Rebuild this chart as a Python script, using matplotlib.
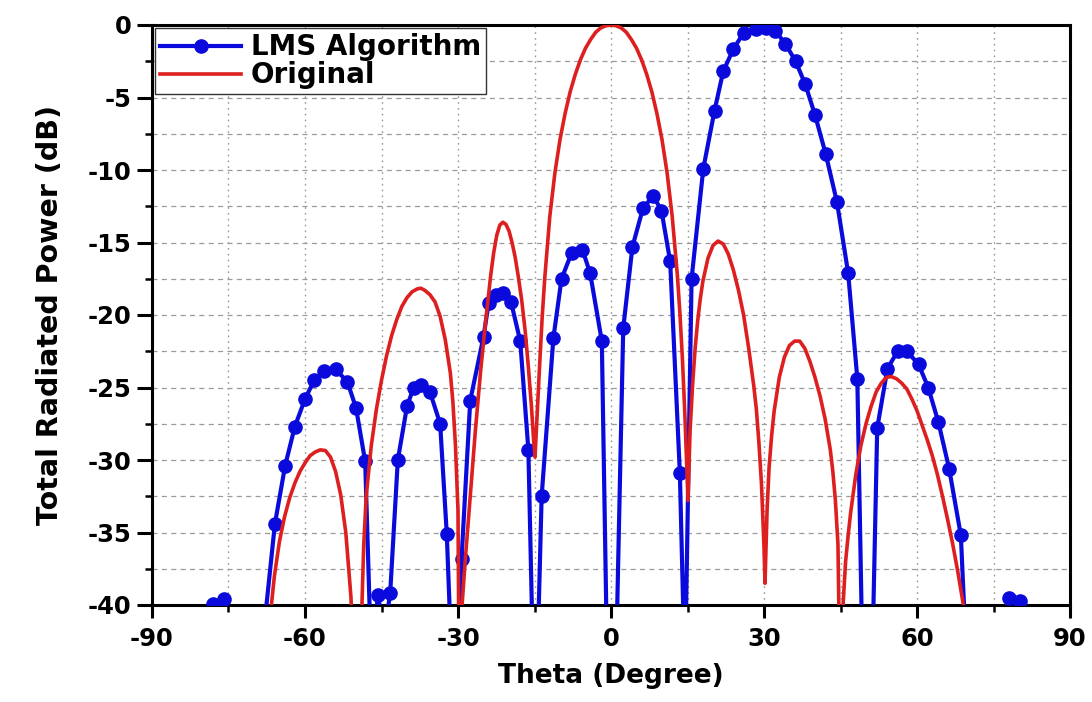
import matplotlib
matplotlib.use('Agg')
import matplotlib.pyplot as plt
from matplotlib.ticker import MultipleLocator

plt.rcParams['font.family'] = ['DejaVu Sans']
plt.rcParams['font.weight'] = 'bold'
plt.rcParams['axes.unicode_minus'] = False

# ---------------- data ----------------
red_theta = [-69.5, -68, -67, -66, -65, -64, -63, -62, -61, -60, -59, -58, -57, -56, -55, -54, -53, -52, -51, -50.3, -49.6,
             -49, -48.5, -48, -47, -46, -45, -44, -43, -42, -41, -40, -39, -38, -37.3, -36.5, -35.5, -34.5, -33.5, -32.5,
             -31.5, -31, -30.5, -30.0, -29.7,
             -29.2, -28.6, -27.6, -26.6, -25.6, -24.6, -23.6, -23.0, -22.4, -21.8, -21.2, -20.6, -20.0, -19.4, -18.8,
             -18.2, -17.5, -16.8, -16.2, -15.6, -15.2, -14.9,
             -14.5, -14, -13.5, -13, -12, -11, -10, -9, -8, -7, -6, -5, -4, -3, -2, -1, 0, 1, 2, 3, 4, 5, 6, 7, 8, 9, 10,
             11, 12, 13, 13.5, 14, 14.5, 15.1,
             15.5, 16, 16.5, 17, 17.5, 18, 19, 20, 21, 22, 23, 24, 25, 26, 27, 28, 28.5, 29, 29.5, 30, 30.2,
             30.6, 31, 31.5, 32, 33, 34, 35, 36, 37, 38, 39, 40, 41, 42, 43, 43.5, 44, 44.5, 45,
             45.5, 46, 46.5, 47, 48, 49, 50, 51, 52, 53, 54, 55, 56, 57, 58, 59, 60, 61, 62, 63, 64, 65, 66, 67, 68, 69, 70]
red_db = [-52, -47.3, -41.4, -38.0, -35.6, -33.9, -32.6, -31.6, -30.8, -30.2, -29.7, -29.45, -29.3, -29.35, -29.8, -30.8,
          -32.4, -35.0, -39.4, -45, -60,
          -42, -36, -32.5, -29.0, -26.5, -24.5, -22.8, -21.4, -20.3, -19.4, -18.8, -18.4, -18.2, -18.15, -18.3, -18.6,
          -19.1, -20.1, -21.7, -24.0, -26.0, -29.0, -33.5, -50,
          -40, -37, -32.5, -28.0, -24.0, -20.5, -17.3, -15.7, -14.5, -13.8, -13.6, -13.75, -14.2, -15.0, -16.0,
          -17.3, -19.0, -21.2, -23.6, -26.3, -28.5, -29.8,
          -27.0, -23.5, -20.2, -17.5, -13.2, -10.2, -7.9, -6.1, -4.6, -3.4, -2.4, -1.6, -1.0, -0.5, -0.2, -0.05, 0,
          -0.05, -0.2, -0.5, -1.0, -1.6, -2.4, -3.4, -4.6, -6.1, -7.9, -10.2, -13.2, -17.2, -19.8, -23.0, -27.0, -32.8,
          -28.0, -24.8, -22.3, -20.4, -18.9, -17.7, -16.1, -15.2, -14.9, -15.1, -15.8, -16.9, -18.3, -20.0, -22.3,
          -24.9, -26.5, -28.8, -31.6, -36.0, -38.5,
          -33.5, -30.5, -28.3, -26.6, -24.3, -22.9, -22.1, -21.8, -21.8, -22.3, -23.2, -24.3, -25.6, -27.2, -29.3,
          -30.8, -32.8, -35.8, -48,
          -40, -37, -35.2, -33.6, -31.0, -29.0, -27.5, -26.3, -25.3, -24.7, -24.3, -24.25, -24.4, -24.7, -25.1, -25.8,
          -26.6, -27.6, -28.6, -29.7, -31.0, -32.5, -34.1, -35.8, -37.7, -39.8, -42.5]

blue_theta = [-80, -78, -75.8, -74, -72, -70, -68,
              -65.9, -63.9, -62.0, -60.0, -58.2, -56.3, -54.0, -51.7, -50.0, -48.2, -47.0, -45.7, -44.5, -43.3,
              -41.8, -40.0, -38.7, -37.3, -35.5, -33.5, -32.2, -30.8, -29.3,
              -27.6, -25.0, -24.0, -22.6, -21.2, -19.6, -17.8, -16.2, -14.9, -13.6,
              -11.3, -9.7, -7.7, -5.6, -4.1, -1.8, 0.0, 2.4, 4.2, 6.3, 8.3, 9.9, 11.6, 13.5, 14.5, 15.8,
              18.1, 20.3, 22.0, 24.0, 26.0, 28.4, 30.4, 32.2, 34.2, 36.2, 38.1, 40.0, 42.1, 44.3, 46.5, 48.3, 50.2,
              52.2, 54.2, 56.2, 58.0, 60.3, 62.2, 64.2, 66.3, 68.6, 70.5, 72.5, 74.5, 76.0, 78.0, 80.2, 82, 84]
blue_db = [-43, -39.9, -39.6, -43, -55, -48, -41.5,
           -34.4, -30.4, -27.7, -25.8, -24.5, -23.85, -23.75, -24.6, -26.4, -30.1, -44, -39.3, -42, -39.2,
           -30.0, -26.3, -25.0, -24.85, -25.3, -27.5, -35.1, -48, -36.8,
           -25.9, -21.5, -19.2, -18.6, -18.5, -19.1, -21.8, -29.3, -50, -32.5,
           -21.6, -17.5, -15.7, -15.5, -17.1, -21.8, -60, -20.9, -15.3, -12.6, -11.8, -12.8, -16.3, -30.9, -45, -17.5,
           -9.9, -5.9, -3.2, -1.65, -0.55, -0.3, -0.2, -0.4, -1.3, -2.5, -4.1, -6.2, -8.9, -12.2, -17.1, -24.4, -61,
           -27.8, -23.7, -22.5, -22.5, -23.4, -25.0, -27.4, -30.6, -35.2, -50, -55, -50, -43, -39.5, -39.7, -44, -50]

x_ticks = [-90, -60, -30, 0, 30, 60, 90]
y_ticks = [0, -5, -10, -15, -20, -25, -30, -35, -40]
series_labels = ['LMS Algorithm', 'Original']
x_label = 'Theta (Degree)'
y_label = 'Total Radiated Power (dB)'

# ---------------- figure ----------------
fig = plt.figure(figsize=(10.92, 7.02), dpi=100)
ax = fig.add_axes([152 / 1092, 1 - 605 / 702, (1070 - 152) / 1092, (605 - 25) / 702])

blue_col = '#0a0adc'
red_col = '#dd1f1f'
marked = [v > -40.6 for v in blue_db]
ax.plot(blue_theta, blue_db, color=blue_col, lw=3.0, marker='o', markersize=9.5,
        markevery=marked, label=series_labels[0], zorder=3)
ax.plot(red_theta, red_db, color=red_col, lw=2.6, label=series_labels[1], zorder=4)

ax.set_xlim(-90, 90)
ax.set_ylim(-40, 0)
ax.set_xticks(x_ticks)
ax.set_yticks(y_ticks)
ax.xaxis.set_minor_locator(MultipleLocator(15))
ax.yaxis.set_minor_locator(MultipleLocator(2.5))

ax.grid(True, which='both', axis='x', color='#9a9a9a', linestyle=(0, (1.2, 3)), linewidth=1.0)
ax.grid(True, which='both', axis='y', color='#9a9a9a', linestyle=(0, (4, 3.5)), linewidth=0.9)
ax.set_axisbelow(True)

for s in ax.spines.values():
    s.set_linewidth(2.2)
    s.set_color('black')

ax.tick_params(axis='x', which='major', direction='out', length=9, width=2.2,
               labelsize=17.5, pad=7, top=False)
ax.tick_params(axis='y', which='major', direction='out', length=10.5, width=2.2,
               labelsize=17.5, pad=4.5, right=False)
ax.tick_params(axis='both', which='minor', direction='out', length=5, width=1.8,
               top=False, right=False)
for lab in ax.get_xticklabels() + ax.get_yticklabels():
    lab.set_fontweight('bold')

ax.set_xlabel(x_label, fontsize=19, fontweight='bold', labelpad=8.5)
ax.set_ylabel(y_label, fontsize=20.5, fontweight='bold', labelpad=17)

leg = ax.legend(loc='upper left', bbox_to_anchor=(0.0, 1.0), frameon=True,
                fancybox=False, edgecolor='#333333', framealpha=1, handlelength=2.9,
                handletextpad=0.36, borderpad=0.18, labelspacing=0.0, borderaxespad=0.12,
                prop={'weight': 'bold', 'size': 20})
leg.get_frame().set_linewidth(1.0)

fig.savefig('out.png', dpi=100)
